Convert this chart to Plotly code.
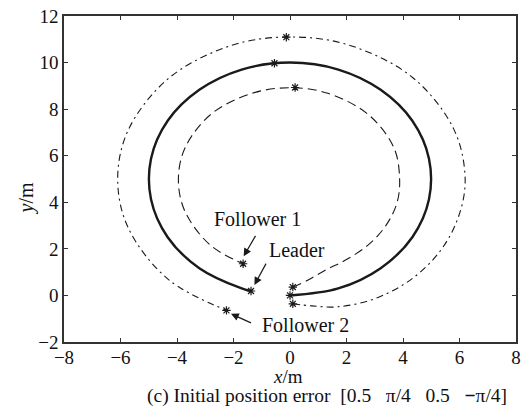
import plotly.graph_objects as go

# Leader trajectory (solid)
leader_x = [0.0, 1.71, 3.21, 4.33, 4.92, 4.92, 4.33, 3.21, 1.71, 0.0, -1.71, -3.21,
            -4.33, -4.92, -4.92, -4.33, -3.21, -1.71, -1.38]
leader_y = [0.0, 0.30, 1.17, 2.50, 4.13, 5.87, 7.50, 8.83, 9.70, 10.0, 9.70, 8.83,
            7.50, 5.87, 4.13, 2.50, 1.17, 0.30, 0.19]
leader_mark_x = [0.0, -0.55, -1.38]
leader_mark_y = [0.0, 9.97, 0.19]

# Follower 1 trajectory (dashed)
f1_x = [0.10, 0.61, 1.27, 2.00, 2.80, 3.41, 3.79, 3.88, 3.68, 2.77, 1.34, 0.0,
        -1.34, -2.79, -3.71, -3.95, -3.73, -2.83, -1.66]
f1_y = [0.36, 0.64, 1.10, 1.54, 2.20, 3.03, 3.99, 5.00, 6.34, 7.77, 8.68, 8.92,
        8.68, 7.79, 6.35, 5.00, 3.64, 2.17, 1.36]
f1_mark_x = [0.10, 0.18, -1.66]
f1_mark_y = [0.36, 8.93, 1.36]

# Follower 2 trajectory (dash-dot)
f2_x = [0.10, 0.77, 1.68, 2.98, 4.30, 5.33, 5.97, 6.20, 5.81, 4.35, 2.09, 0.0,
        -2.09, -4.31, -5.73, -6.10, -5.73, -4.31, -2.27]
f2_y = [-0.36, -0.45, -0.49, -0.15, 0.70, 1.93, 3.40, 5.00, 7.11, 9.35, 10.75, 11.10,
        10.73, 9.31, 7.09, 5.00, 2.91, 0.69, -0.63]
f2_mark_x = [0.10, -0.13, -2.25]
f2_mark_y = [-0.36, 11.09, -0.64]

x_ticks = [-8, -6, -4, -2, 0, 2, 4, 6, 8]
y_ticks = [-2, 0, 2, 4, 6, 8, 10, 12]

FONT = "Liberation Serif, Times New Roman, DejaVu Serif, serif"
INK = "#1a1a1a"

fig = go.Figure()

def path(xs, ys, width, dash, color=INK):
    fig.add_trace(go.Scatter(x=xs, y=ys, mode="lines",
                             line=dict(color=color, width=width, dash=dash,
                                       shape="spline", smoothing=1.0),
                             hoverinfo="skip", showlegend=False))

def stars(xs, ys):
    fig.add_trace(go.Scatter(x=xs, y=ys, mode="markers",
                             marker=dict(symbol="asterisk-open", size=7, color=INK,
                                         line=dict(color=INK, width=1.2)),
                             hoverinfo="skip", showlegend=False))

path(f2_x, f2_y, 1.1, "7px,4px,2px,4px")
path(f1_x, f1_y, 1.1, "9px,5px")
path(leader_x, leader_y, 2.4, "solid")
stars(f2_mark_x, f2_mark_y)
stars(f1_mark_x, f1_mark_y)
stars(leader_mark_x, leader_mark_y)

# Labels with arrows pointing at the end points
labels = [
    ("Follower 1", -1.15, 3.28, -1.19, 2.62, -1.64, 1.68),
    ("Leader", 0.25, 1.97, -0.82, 1.43, -1.26, 0.45),
    ("Follower 2", 0.55, -1.29, -1.33, -1.21, -2.09, -0.79),
]
for text, tx, ty, ax0, ay0, hx, hy in labels:
    fig.add_annotation(x=tx, y=ty, text=text, showarrow=False,
                       font=dict(family=FONT, size=20, color="#111"))
    fig.add_annotation(x=hx, y=hy, ax=ax0, ay=ay0, xref="x", yref="y",
                       axref="x", ayref="y", text="", showarrow=True,
                       arrowhead=2, arrowsize=1.3, arrowwidth=1.2, arrowcolor=INK)

axis_common = dict(showline=True, linecolor="#333", linewidth=1.5, mirror="ticks",
                   ticks="inside", ticklen=4, tickwidth=1.2, tickcolor="#333",
                   showgrid=False, zeroline=False,
                   tickfont=dict(family=FONT, size=19, color="#111"))

fig.update_xaxes(range=[-8, 8], tickvals=x_ticks, ticklabelstandoff=-3, **axis_common)
fig.update_yaxes(range=[-2, 12], tickvals=y_ticks, **axis_common)

fig.add_annotation(x=0.495, y=-0.106, xref="paper", yref="paper",
                   text="<i>x</i>/m", showarrow=False, yanchor="middle",
                   font=dict(family=FONT, size=19, color="#111"))
fig.add_annotation(x=-0.112, y=0.44, xref="paper", yref="paper",
                   text="<i>y</i>/m", showarrow=False, textangle=-90,
                   font=dict(family=FONT, size=20, color="#111"))
fig.add_annotation(x=0.582, y=-0.166, xref="paper", yref="paper", yanchor="middle",
                   text="(c) Initial position error\u00a0\u00a0[0.5\u00a0\u00a0\u00a0\u03c0/4\u00a0\u00a0\u00a00.5\u00a0\u00a0\u00a0<b>\u2212</b>\u03c0/4]",
                   showarrow=False,
                   font=dict(family=FONT, size=19.5, color="#111"))

fig.update_layout(width=526, height=413,
                  margin=dict(l=64, r=5, t=16, b=71),
                  paper_bgcolor="white", plot_bgcolor="white")

fig.write_html("out.html")
